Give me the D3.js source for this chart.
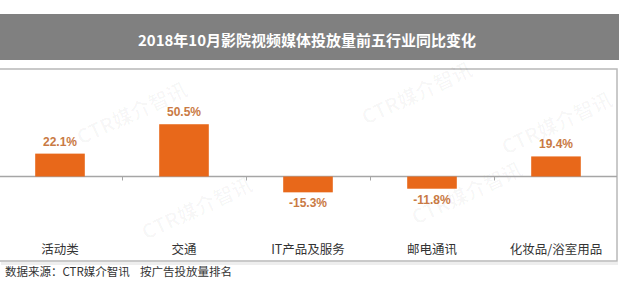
<!DOCTYPE html>
<html>
<head>
<meta charset="utf-8">
<script src="https://cdn.jsdelivr.net/npm/d3@7"></script>
<style>
body { margin: 0; background: #fff; }
svg { display: block; font-family: "Microsoft YaHei", "Noto Sans CJK SC", "Liberation Sans", sans-serif; }
</style>
</head>
<body>
<svg id="chart" width="619" height="290"></svg>
<script>
var title = "2018年10月影院视频媒体投放量前五行业同比变化";
var categories = ["活动类", "交通", "IT产品及服务", "邮电通讯", "化妆品/浴室用品"];
var values = [22.1, 50.5, -15.3, -11.8, 19.4];
var source = "数据来源：CTR媒介智讯    按广告投放量排名";

var svg = d3.select("#chart");

// title band
svg.append("rect")
    .attr("x", 0).attr("y", 14)
    .attr("width", 619).attr("height", 46)
    .attr("fill", "#808080");
svg.append("text")
    .attr("x", 307).attr("y", 46)
    .attr("text-anchor", "middle")
    .attr("fill", "#fff")
    .attr("font-size", "15px")
    .attr("font-weight", "bold")
    .text(title);

// chart box with light shadow
svg.append("rect")
    .attr("x", 1).attr("y", 262)
    .attr("width", 617).attr("height", 3)
    .attr("fill", "#eee");
svg.append("rect")
    .attr("x", -1).attr("y", 69)
    .attr("width", 618).attr("height", 192)
    .attr("fill", "#fff")
    .attr("stroke", "#b8b8b8")
    .attr("stroke-width", 1.5);

// faint watermarks
var marks = [[135, 120], [200, 215], [420, 100], [470, 200], [560, 130]];
marks.forEach(function(m) {
    svg.append("text")
        .attr("transform", "translate(" + m[0] + "," + m[1] + ") rotate(-25)")
        .attr("text-anchor", "middle")
        .attr("fill", "#000")
        .attr("fill-opacity", 0.03)
        .attr("font-size", "20px")
        .attr("font-weight", "bold")
        .text("CTR媒介智讯");
});

var x = d3.scaleBand()
    .domain(categories)
    .range([-2, 618])
    .paddingInner(0.6)
    .paddingOuter(0.3);

var y = d3.scaleLinear()
    .domain([-20, 60])
    .range([197.2, 114.4]);

var y0 = y(0);

// axis line and ticks between bands
svg.append("line")
    .attr("x1", 0).attr("x2", 617)
    .attr("y1", y0).attr("y2", y0)
    .attr("stroke", "#a6a6a6")
    .attr("stroke-width", 1.5);

var step = x.step();
categories.slice(1).forEach(function(c) {
    var tx = x(c) - x.paddingInner() * step / 2;
    svg.append("line")
        .attr("x1", Math.round(tx) + 0.5).attr("x2", Math.round(tx) + 0.5)
        .attr("y1", y0).attr("y2", y0 + 4)
        .attr("stroke", "#a6a6a6");
});

// bars
svg.selectAll(".bar")
    .data(values)
    .enter().append("rect")
    .attr("class", "bar")
    .attr("x", function(d, i) { return x(categories[i]); })
    .attr("width", x.bandwidth())
    .attr("y", function(d) { return d > 0 ? y(d) : y0; })
    .attr("height", function(d) { return Math.abs(y(d) - y0); })
    .attr("fill", "#e8681a");

// value labels
svg.selectAll(".val")
    .data(values)
    .enter().append("text")
    .attr("class", "val")
    .attr("x", function(d, i) { return x(categories[i]) + x.bandwidth() / 2; })
    .attr("y", function(d) { return d > 0 ? y(d) - 8 : y(d) + 15; })
    .attr("text-anchor", "middle")
    .attr("fill", "#c97a44")
    .attr("font-size", "12px")
    .attr("font-weight", "bold")
    .attr("font-family", "Liberation Sans, Arial, sans-serif")
    .text(function(d) { return d.toFixed(1) + "%"; });

// category labels
svg.selectAll(".cat")
    .data(categories)
    .enter().append("text")
    .attr("class", "cat")
    .attr("x", function(d) { return x(d) + x.bandwidth() / 2; })
    .attr("y", 254)
    .attr("text-anchor", "middle")
    .attr("fill", "#333")
    .attr("font-size", "12.5px")
    .text(function(d) { return d; });

// source
svg.append("text")
    .attr("x", 5).attr("y", 276)
    .attr("fill", "#333")
    .attr("font-size", "11.5px")
    .attr("xml:space", "preserve")
    .style("white-space", "pre")
    .text(source);
</script>
</body>
</html>
